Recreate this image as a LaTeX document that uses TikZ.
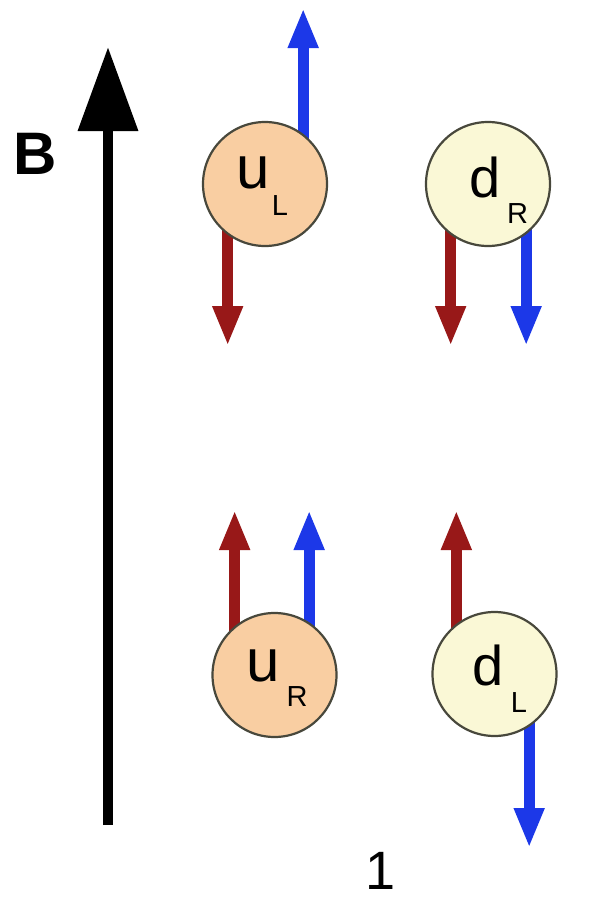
\documentclass[tikz,border=0pt]{standalone}
\usepackage{fontspec}
\setmainfont{Liberation Sans}
\usetikzlibrary{arrows.meta,backgrounds}
\definecolor{spinred}{RGB}{152,24,24}
\definecolor{spinblue}{RGB}{28,56,232}
\definecolor{upfill}{RGB}{249,206,162}
\definecolor{downfill}{RGB}{250,248,214}
\definecolor{rim}{RGB}{72,72,60}
\begin{document}
\begin{tikzpicture}[x=1pt,y=-1pt,
  quark/.style={circle,draw=rim,line width=2.2pt,minimum size=124pt,inner sep=0pt,outer sep=0pt},
  upq/.style={quark,fill=upfill},
  downq/.style={quark,fill=downfill},
  flav/.style={inner sep=0pt,anchor=base,font=\fontsize{60}{60}\selectfont},
  sub/.style={inner sep=0pt,anchor=base,font=\fontsize{29}{29}\selectfont},
  spinarrow/.style={line width=11pt,shorten <=-8pt,-{Triangle[length=40pt,width=28pt]}},
  redspin/.style={spinarrow,draw=spinred,fill=spinred},
  bluespin/.style={spinarrow,draw=spinblue,fill=spinblue}]
\useasboundingbox (0,0) rectangle (604,902);

% magnetic field
\coordinate (Bbot) at (108,825);
\coordinate (Btop) at (108,47);
\draw[line width=10pt,-{Triangle[length=84pt,width=58pt]}] (Bbot) -- (Btop);
\node[inner sep=0pt,font=\bfseries\fontsize{60}{60}\selectfont] (Blab) at (35,154) {B};

% quarks
\node[upq] (uL) at (265,184) {};
\node[downq] (dR) at (488,184) {};
\node[upq] (uR) at (274.5,675) {};
\node[downq] (dL) at (494.5,674) {};

\node[flav] (uLt) at (253,188) {u};
\node[sub] (uLs) at (280,215) {L};
\node[flav,font=\fontsize{56}{56}\selectfont] (dRt) at (485,197) {d};
\node[sub] (dRs) at (517.5,223) {R};
\node[flav] (uRt) at (263,681) {u};
\node[sub] (uRs) at (297,706) {R};
\node[flav,font=\fontsize{56}{56}\selectfont] (dLt) at (488.5,685) {d};
\node[sub] (dLs) at (519,712) {L};

\node[inner sep=0pt,anchor=base,font=\fontsize{54}{54}\selectfont] (num) at (381,889) {1};

% arrow tips
\coordinate (topA) at (0,8);
\coordinate (botA) at (0,346);
\coordinate (topB) at (0,510);
\coordinate (botB) at (0,848);

\begin{pgfonlayer}{background}
\draw[bluespin] (uL.52) -- (uL.52 |- topA);
\draw[redspin] (uL.-127) -- (uL.-127 |- botA);
\draw[redspin] (dR.-127) -- (dR.-127 |- botA);
\draw[bluespin] (dR.-52) -- (dR.-52 |- botA);
\draw[redspin] (uR.130) -- (uR.130 |- topB);
\draw[bluespin] (uR.56) -- (uR.56 |- topB);
\draw[redspin] (dL.128) -- (dL.128 |- topB);
\draw[bluespin] (dL.-56) -- (dL.-56 |- botB);
\end{pgfonlayer}
\end{tikzpicture}
\end{document}
